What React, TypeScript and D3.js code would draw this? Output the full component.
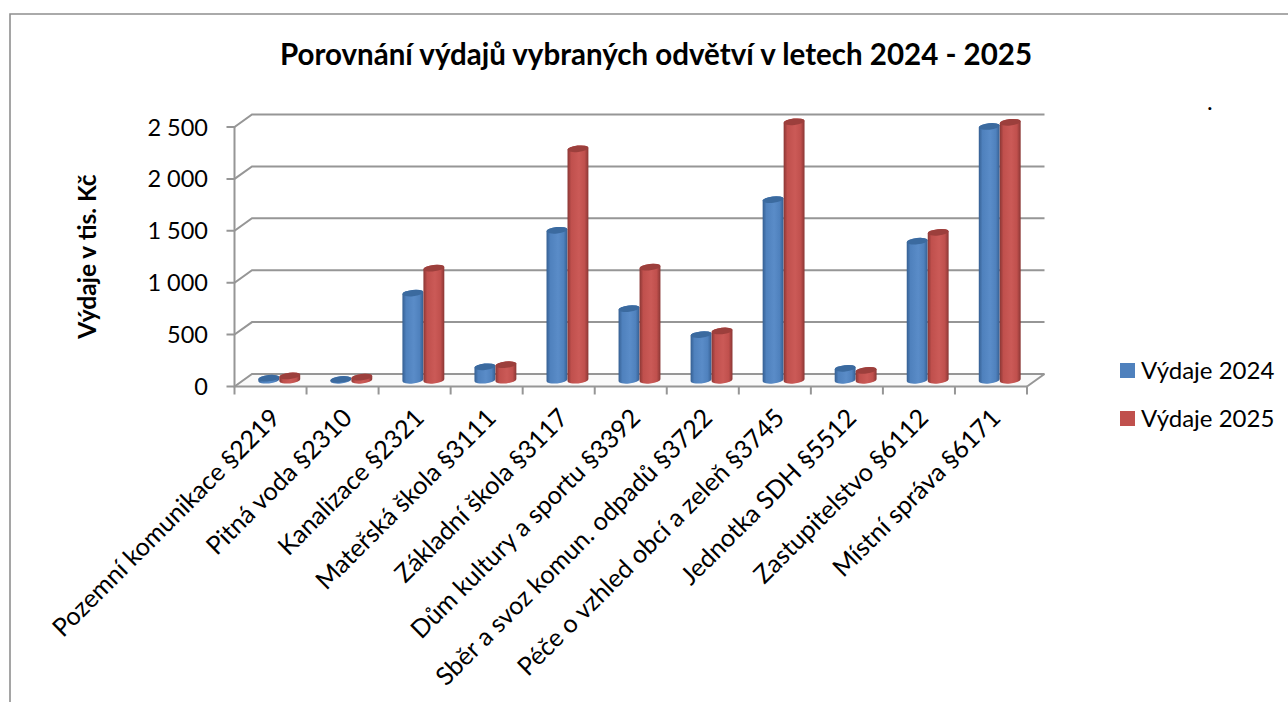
import React, { useEffect, useRef } from 'react';
import * as d3 from 'd3';

const categories = [
  'Pozemní komunikace §2219',
  'Pitná voda §2310',
  'Kanalizace §2321',
  'Mateřská škola §3111',
  'Základní škola §3117',
  'Dům kultury a sportu §3392',
  'Sběr a svoz komun. odpadů §3722',
  'Péče o vzhled obcí a zeleň §3745',
  'Jednotka SDH §5512',
  'Zastupitelstvo §6112',
  'Místní správa §6171',
];
const vydaje2024 = [20, 8, 840, 130, 1445, 690, 440, 1740, 115, 1340, 2445];
const vydaje2025 = [42, 30, 1080, 150, 2230, 1090, 475, 2490, 95, 1425, 2485];
const yTicks = [0, 500, 1000, 1500, 2000, 2500];
const seriesNames = ['Výdaje 2024', 'Výdaje 2025'];
const seriesColors = [
  { id: 'blue', edge: '#355f92', mid: '#4f81bd', light: '#5a8cc8', top: '#3b6a9f' },
  { id: 'red', edge: '#8a3634', mid: '#c0504d', light: '#cb5a57', top: '#9c3f3c' },
];

const FONT = 'Lato, Carlito, sans-serif';
const AXIS = '#969696';

const App = () => {
  const chartRef = useRef<SVGSVGElement>(null);

  useEffect(() => {
    const width = 1288;
    const height = 702;
    const svg = d3.select(chartRef.current);
    svg.selectAll('*').remove();

    const x = d3.scaleBand().domain(categories).range([234.5, 1027]);
    const y = d3.scaleLinear().domain([0, 2500]).range([386.5, 127]);
    const depth = { dx: 17.5, dy: -12.5 };
    const fmt = d3.formatLocale({ decimal: ',', thousands: ' ', grouping: [3], currency: ['', ' Kč'] }).format(',d');

    // gradients for the cylinders
    const defs = svg.append('defs');
    seriesColors.forEach(c => {
      const g = defs.append('linearGradient').attr('id', c.id);
      [[0, c.edge], [0.18, c.mid], [0.55, c.light], [0.82, c.mid], [1, c.edge]].forEach(([o, col]) => {
        g.append('stop').attr('offset', o as number).attr('stop-color', col as string);
      });
    });

    // frame
    svg.append('path')
      .attr('d', `M10,${height} V14 H${width}`)
      .attr('fill', 'none')
      .attr('stroke', '#8f8f8f')
      .attr('stroke-width', 1.6);

    svg.append('text')
      .attr('x', 656)
      .attr('y', 65)
      .attr('text-anchor', 'middle')
      .attr('font-family', FONT)
      .attr('font-weight', 700)
      .attr('font-size', 29.5)
      .text('Porovnání výdajů vybraných odvětví v letech 2024 - 2025');

    svg.append('text')
      .attr('x', 1207)
      .attr('y', 110)
      .attr('font-family', FONT)
      .attr('font-size', 24)
      .text('.');

    // floor
    const floor = d3.line()([
      [x.range()[0], y(0)],
      [x.range()[0] + depth.dx, y(0) + depth.dy],
      [x.range()[1] + depth.dx, y(0) + depth.dy],
      [x.range()[1], y(0)],
    ]);
    svg.append('path').attr('d', floor + 'Z').attr('fill', '#fafafa').attr('stroke', 'none');

    // gridlines on the back wall, with the diagonal to the front axis
    const grid = svg.append('g').attr('fill', 'none').attr('stroke', AXIS).attr('stroke-width', 2);
    yTicks.forEach(t => {
      grid.append('path').attr('d', d3.line()([
        [x.range()[0] - 8, y(t)],
        [x.range()[0], y(t)],
        [x.range()[0] + depth.dx, y(t) + depth.dy],
        [x.range()[1] + depth.dx, y(t) + depth.dy],
      ]));
    });
    grid.append('path').attr('d', d3.line()([
      [x.range()[1] + depth.dx, y(0) + depth.dy],
      [x.range()[1], y(0)],
    ]));

    // front axes
    grid.append('path').attr('d', `M${x.range()[0]},${y(2500)} V${y(0)} H${x.range()[1]}`);
    d3.range(categories.length + 1).forEach(i => {
      const tx = x.range()[0] + i * x.step();
      grid.append('path').attr('d', `M${tx},${y(0)} v8`);
    });

    // y tick labels
    svg.append('g')
      .selectAll('text')
      .data(yTicks)
      .enter()
      .append('text')
      .attr('x', 208)
      .attr('y', d => y(d) + 8.5)
      .attr('text-anchor', 'end')
      .attr('font-family', FONT)
      .attr('font-size', 23.5)
      .text(d => fmt(d));

    svg.append('text')
      .attr('transform', 'translate(96,256.5) rotate(-90)')
      .attr('text-anchor', 'middle')
      .attr('font-family', FONT)
      .attr('font-weight', 700)
      .attr('font-size', 24.5)
      .text('Výdaje v tis. Kč');

    // category labels
    svg.append('g')
      .selectAll('text')
      .data(categories)
      .enter()
      .append('text')
      .attr('transform', d => `translate(${x(d)! + x.step() / 2 + 11},${y(0) + 33}) rotate(-45)`)
      .attr('text-anchor', 'end')
      .attr('font-family', FONT)
      .attr('font-size', 25.2)
      .text(d => d);

    // cylinders: blue first, red sits in front of it
    const barW = 21;
    const rx = barW / 2;
    const ry = 3.2;
    const tilt = -6;
    [vydaje2024, vydaje2025].forEach((values, s) => {
      const c = seriesColors[s];
      const g = svg.append('g');
      values.forEach((v, i) => {
        const cx = x(categories[i])! + x.step() / 2 + depth.dx / 2 + (s === 0 ? -barW / 2 : barW / 2);
        const base = y(0) + depth.dy / 2;
        const top = y(v) + depth.dy / 2;
        const ax = rx * Math.cos((tilt * Math.PI) / 180);
        const ay = rx * Math.sin((tilt * Math.PI) / 180);
        g.append('path')
          .attr('d', `M${cx - ax},${top - ay} L${cx - ax},${base - ay} A${rx},${ry} ${tilt} 0 0 ${cx + ax},${base + ay} L${cx + ax},${top + ay} A${rx},${ry} ${tilt} 0 0 ${cx - ax},${top - ay} Z`)
          .attr('fill', `url(#${c.id})`);
        g.append('ellipse')
          .attr('transform', `translate(${cx},${top}) rotate(${tilt})`)
          .attr('rx', rx)
          .attr('ry', ry)
          .attr('fill', c.top);
      });
    });

    // legend
    const legend = d3.scalePoint().domain(seriesNames).range([370.5, 418.5]);
    const lg = svg.append('g');
    seriesNames.forEach((name, i) => {
      lg.append('rect')
        .attr('x', 1120)
        .attr('y', legend(name)! - 7.5)
        .attr('width', 15)
        .attr('height', 15)
        .attr('fill', seriesColors[i].mid);
      lg.append('text')
        .attr('x', 1141)
        .attr('y', legend(name)! + 8)
        .attr('font-family', FONT)
        .attr('font-size', 24)
        .text(name);
    });

    return () => {
      svg.selectAll('*').remove();
    };
  }, []);

  return (
    <svg
      ref={chartRef}
      width={1288}
      height={702}
      style={{ position: 'absolute', left: 0, top: 0, background: '#fff' }}
    />
  );
};

export default App;
